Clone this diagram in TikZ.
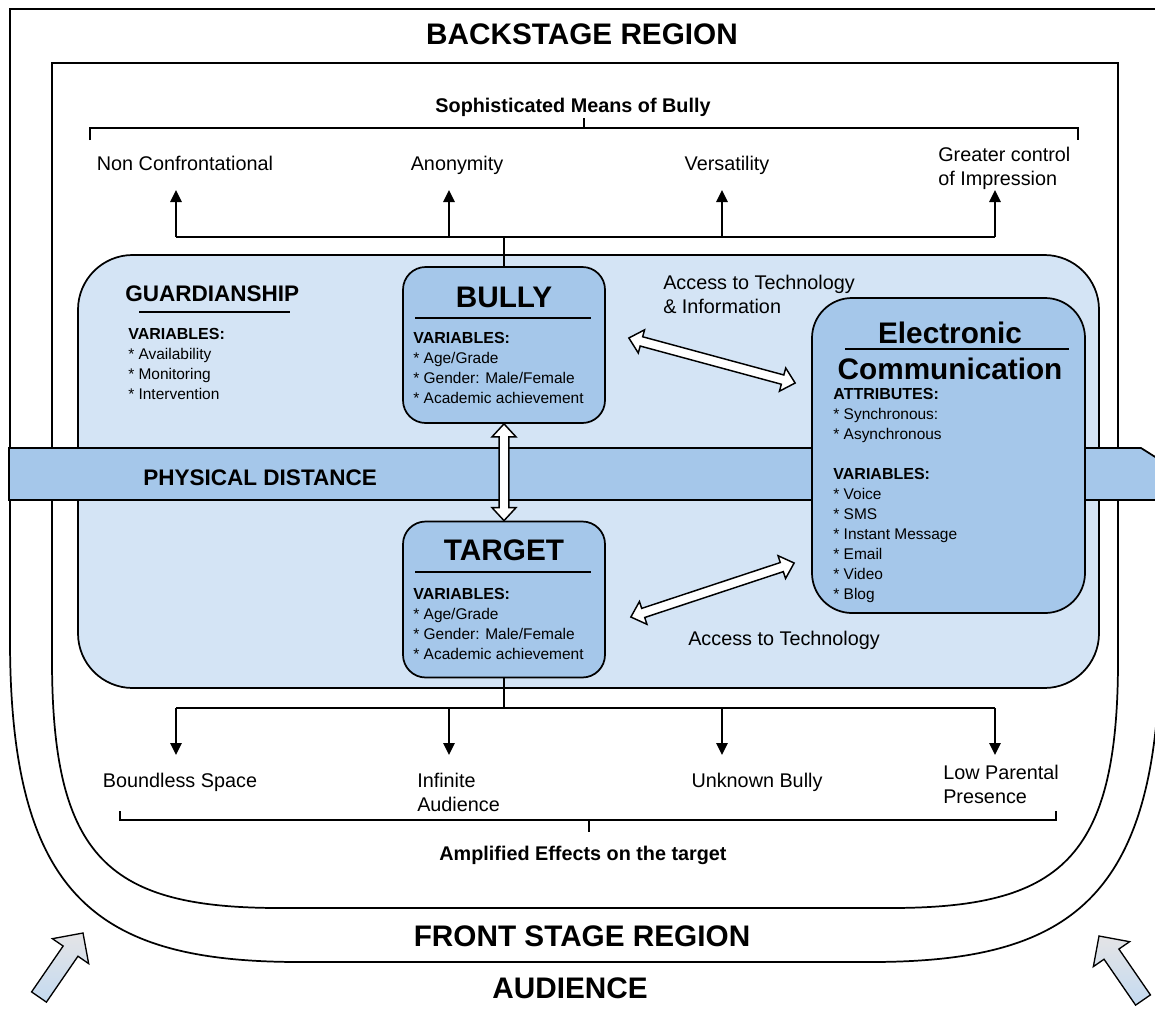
\documentclass[tikz,border=0pt]{standalone}
\usepackage{fontspec}
\setmainfont{Liberation Sans}
\usetikzlibrary{arrows.meta,calc}

\definecolor{regionblue}{RGB}{212,228,245}
\definecolor{boxblue}{RGB}{165,199,234}
\definecolor{audblue}{RGB}{196,218,240}
\definecolor{audgray}{RGB}{228,228,230}

\newcommand{\stagefont}{\fontsize{22.3pt}{26pt}\selectfont\bfseries}
\newcommand{\bandfont}{\fontsize{16.9pt}{20pt}\selectfont\bfseries}
\newcommand{\lblfont}{\fontsize{14.85pt}{18pt}\selectfont}
\newcommand{\listfont}{\fontsize{11.6pt}{15pt}\selectfont}
\newcommand{\listhead}[1]{{\fontsize{12pt}{15pt}\selectfont\bfseries #1}}
\newcommand{\varitem}{*~}

% hollow double arrow between two points
\newcommand{\hollowarrow}[2]{%
	\draw[hollowtip] (#1) -- ($(#1)!9.75pt!(#2)!9pt!90:(#2)$) -- ($(#1)!9.75pt!(#2)!3.6pt!90:(#2)$)
		-- ($(#2)!9.75pt!(#1)!3.6pt!-90:(#1)$) -- ($(#2)!9.75pt!(#1)!9pt!-90:(#1)$) -- (#2)
		-- ($(#2)!9.75pt!(#1)!9pt!90:(#1)$) -- ($(#2)!9.75pt!(#1)!3.6pt!90:(#1)$)
		-- ($(#1)!9.75pt!(#2)!3.6pt!-90:(#2)$) -- ($(#1)!9.75pt!(#2)!9pt!-90:(#2)$) -- cycle;}
% block arrow from tail to tip
\newcommand{\blockarrow}[2]{%
	\draw[audarrow] (#2) -- ($(#2)!16.5pt!(#1)!16.5pt!90:(#1)$) -- ($(#2)!16.5pt!(#1)!6.75pt!90:(#1)$)
		-- ($(#1)!6.75pt!-90:(#2)$) -- ($(#1)!6.75pt!90:(#2)$)
		-- ($(#2)!16.5pt!(#1)!6.75pt!-90:(#1)$) -- ($(#2)!16.5pt!(#1)!16.5pt!-90:(#1)$) -- cycle;}

\begin{document}
\begin{tikzpicture}[x=0.75pt, y=-0.75pt,
		frameline/.style={line width=1.3pt},
		settingbox/.style={draw, line width=1.3pt, fill=regionblue, rounded corners=41pt,
			minimum width=765.75pt, minimum height=324.75pt},
		playerbox/.style={draw, line width=1.3pt, fill=boxblue, rounded corners=17pt,
			minimum width=151.5pt, minimum height=117pt},
		bandstrip/.style={draw, line width=1.3pt, fill=boxblue},
		stagetxt/.style={font=\stagefont, inner sep=0pt},
		titletxt/.style={font=\stagefont, inner sep=0pt},
		bandtxt/.style={font=\bandfont, inner sep=0pt},
		plaintxt/.style={font=\lblfont, inner sep=0pt},
		boldtxt/.style={font=\lblfont\bfseries, inner sep=0pt},
		varlist/.style={font=\listfont, align=left, anchor=north west, inner sep=0pt},
		uparrow/.style={line width=1.3pt, -{Triangle[length=9pt,width=8.5pt]}},
		hollowtip/.style={draw, fill=white, line width=1.1pt},
		audarrow/.style={draw, line width=1pt, top color=audgray, bottom color=audblue}]
	\useasboundingbox (0,0) rectangle (1155,1010);

	% stage regions
	\draw[frameline] (10,640) -- (10,9) -- (1160,9) -- (1160,640)
		.. controls (1160,900) and (1070,962) .. (870,962) -- (300,962)
		.. controls (100,962) and (10,900) .. (10,640);
	\draw[frameline] (52,660) -- (52,63) -- (1118,63) -- (1118,660)
		.. controls (1118,860) and (1060,908) .. (890,908) -- (280,908)
		.. controls (110,908) and (52,860) .. (52,660);
	\node[stagetxt, anchor=base] (backstage) at (582,44) {BACKSTAGE REGION};
	\node[stagetxt, anchor=base] (frontstage) at (582,946) {FRONT STAGE REGION};
	\node[stagetxt, anchor=base] (audience) at (570,998) {AUDIENCE};

	% setting and distance band
	\node[settingbox] (setting) at (588.5,471.5) {};
	\draw[bandstrip] (9,448) -- (1141,448) -- (1160,460) -- (1160,500) -- (9,500) -- cycle;
	\node[bandtxt, anchor=base west] (distance) at (143,485) {PHYSICAL DISTANCE};

	\node[bandtxt, anchor=base west] (guardian) at (125,301) {GUARDIANSHIP};
	\draw[frameline] ([shift={(14,11)}]guardian.base west) -- ([shift={(-10,11)}]guardian.base east);
	\node[varlist] (guardvars) at (128,328) {\listhead{VARIABLES:}\\\varitem Availability\\\varitem Monitoring\\\varitem Intervention};

	% actors
	\node[playerbox] (bully) at (504,345) {};
	\node[playerbox] (target) at (504,599.5) {};
	\node[playerbox, minimum width=204.75pt, minimum height=236.25pt, rounded corners=30pt] (ecomm) at (948.5,455.5) {};

	\node[titletxt, anchor=base] (bullyname) at ([shift={(0,41)}]bully.north) {BULLY};
	\draw[frameline] ([shift={(13,52)}]bully.north west) -- ([shift={(-15,52)}]bully.north east);
	\node[varlist] (bullyvars) at ([shift={(11,66)}]bully.north west) {\listhead{VARIABLES:}\\\varitem Age/Grade\\\varitem Gender: Male/Female\\\varitem Academic achievement};

	\node[titletxt, anchor=base] (targetname) at ([shift={(0,40)}]target.north) {TARGET};
	\draw[frameline] ([shift={(13,51)}]target.north west) -- ([shift={(-15,51)}]target.north east);
	\node[varlist] (targetvars) at ([shift={(11,67)}]target.north west) {\listhead{VARIABLES:}\\\varitem Age/Grade\\\varitem Gender: Male/Female\\\varitem Academic achievement};

	\node[titletxt, anchor=base] (ecommname) at ([shift={(1.5,46)}]ecomm.north) {Electronic};
	\draw[frameline] ([shift={(34,52)}]ecomm.north west) -- ([shift={(-17,52)}]ecomm.north east);
	\node[titletxt, anchor=base] (ecommname2) at ([shift={(1.5,82)}]ecomm.north) {Communication};
	\node[varlist] (ecommvars) at ([shift={(22,91)}]ecomm.north west) {\listhead{ATTRIBUTES:}\\\varitem Synchronous:\\\varitem Asynchronous\\[15pt]\listhead{VARIABLES:}\\\varitem Voice\\\varitem SMS\\\varitem Instant Message\\\varitem Email\\\varitem Video\\\varitem Blog};

	% access arrows
	\coordinate (acc1a) at ([shift={(23,-7)}]bully.east);
	\coordinate (acc1b) at ([shift={(-16,-72.5)}]ecomm.west);
	\coordinate (acc2a) at ([shift={(25,17.5)}]target.east);
	\coordinate (acc2b) at ([shift={(-17,107.5)}]ecomm.west);
	\hollowarrow{bully.south}{target.north}
	\hollowarrow{acc1a}{acc1b}
	\hollowarrow{acc2a}{acc2b}
	\node[plaintxt, anchor=north west, align=left] (access1) at (663,275) {Access to Technology\\\& Information};
	\node[plaintxt, anchor=base west] (access2) at (688,645) {Access to Technology};

	% means of bully
	\coordinate (m1) at (176,190);
	\coordinate (m2) at (449,190);
	\coordinate (m3) at (722,190);
	\coordinate (m4) at (995,190);
	\coordinate (tjoin) at (bully.north |- 0,237);
	\draw[frameline] (bully.north) -- (tjoin);
	\draw[frameline] (tjoin -| m1) -- (tjoin -| m4);
	\foreach \m in {m1,m2,m3,m4}
		\draw[uparrow] (tjoin -| \m) -- (\m);
	\node[plaintxt, anchor=base] (nonconf) at (185,170) {Non Confrontational};
	\node[plaintxt, anchor=base] (anonymity) at (457,170) {Anonymity};
	\node[plaintxt, anchor=base] (versatility) at (727,170) {Versatility};
	\node[plaintxt, anchor=north west, align=left] (impression) at (938,147) {Greater control\\of Impression};
	\draw[frameline] (90,140) -- (90,128) -- (1078,128) -- (1078,140);
	\draw[frameline] (584,128) -- (584,118);
	\node[boldtxt, anchor=base] (sophisticated) at (573,112) {Sophisticated Means of Bully};

	% effects on the target
	\coordinate (e1) at (176,755);
	\coordinate (e2) at (449,755);
	\coordinate (e3) at (722,755);
	\coordinate (e4) at (995,755);
	\coordinate (bjoin) at (target.south |- 0,708);
	\draw[frameline] (target.south) -- (bjoin);
	\draw[frameline] (bjoin -| e1) -- (bjoin -| e4);
	\foreach \e in {e1,e2,e3,e4}
		\draw[uparrow] (bjoin -| \e) -- (\e);
	\node[plaintxt, anchor=base] (boundless) at (180,787) {Boundless Space};
	\node[plaintxt, anchor=north west, align=left] (infinite) at (417,773) {Infinite\\Audience};
	\node[plaintxt, anchor=base] (unknown) at (757,787) {Unknown Bully};
	\node[plaintxt, anchor=north west, align=left] (parental) at (943,765) {Low Parental\\Presence};
	\draw[frameline] (120,811) -- (120,820) -- (1056,820) -- (1056,811);
	\draw[frameline] (589,820) -- (589,832);
	\node[boldtxt, anchor=base] (amplified) at (583,860) {Amplified Effects on the target};

	% audience arrows
	\coordinate (audltail) at (39,997);
	\coordinate (audltip) at (83,933);
	\coordinate (audrtail) at (1143,1000);
	\coordinate (audrtip) at (1099,936);
	\blockarrow{audltail}{audltip}
	\blockarrow{audrtail}{audrtip}
\end{tikzpicture}
\end{document}
